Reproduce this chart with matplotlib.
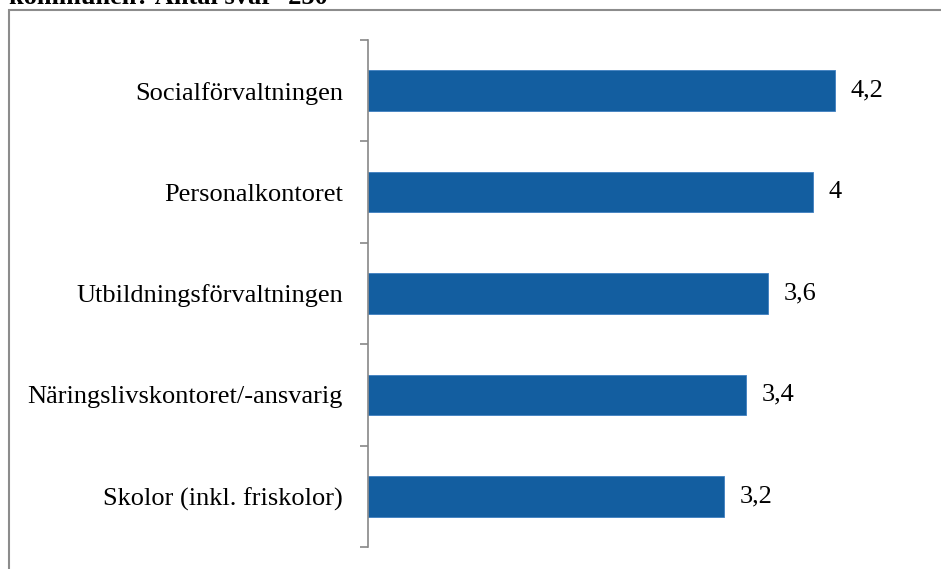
import matplotlib.pyplot as plt
from matplotlib.patches import Rectangle

# data (top to bottom as shown)
kategorier = ["Socialförvaltningen", "Personalkontoret", "Utbildningsförvaltningen",
              "Näringslivskontoret/-ansvarig", "Skolor (inkl. friskolor)"]
varden = [4.2, 4.0, 3.6, 3.4, 3.2]
etiketter = ["4,2", "4", "3,6", "3,4", "3,2"]

plt.rcParams['font.family'] = ['Liberation Serif', 'DejaVu Serif']

W, H = 941, 569
fig = plt.figure(figsize=(W / 100, H / 100), dpi=100)

# axes: x from 368 to 924 px, y from 40 to 547 px
ax = fig.add_axes([368 / W, 1 - 547 / H, (924 - 368) / W, (547 - 40) / H])

n = len(kategorier)
pos = list(range(n))[::-1]
ax.barh(pos, varden, height=0.4, color="#135ea0", edgecolor="#3f7fc0", linewidth=0.6)
for p, v, t in zip(pos, varden, etiketter):
    ax.text(v + 0.14, p, t, va="center", ha="left", fontsize=19)

ax.set_xlim(0, 5.0)
ax.set_ylim(-0.5, n - 0.5)
ax.set_yticks([i - 0.5 for i in range(n + 1)])
ax.set_yticklabels([])
ax.set_yticks(pos, minor=True)
ax.set_yticklabels(kategorier, minor=True, fontsize=19)
ax.tick_params(axis="y", which="minor", length=0, pad=18)
ax.tick_params(axis="y", which="major", length=6, color="#888888", width=1.2)
ax.set_xticks([])
for s in ["top", "right", "bottom"]:
    ax.spines[s].set_visible(False)
ax.spines["left"].set_color("#888888")
ax.spines["left"].set_linewidth(1.2)

# outer frame (partially cut off)
fig.patches.append(Rectangle((9 / W, -0.1), 1.0, 1 - 10 / H + 0.1, transform=fig.transFigure,
                             fill=False, edgecolor="#8c8c8c", linewidth=1.5))

fig.text(9 / W, 1 - 4 / H, "kommunen? Antal svar=250", fontsize=19, fontweight="bold",
         ha="left", va="baseline")

fig.savefig("out.png", dpi=100)
